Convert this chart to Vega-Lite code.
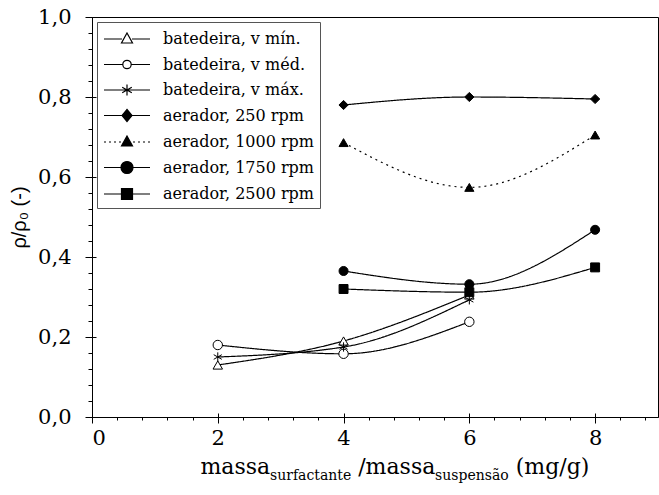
{
  "$schema": "https://vega.github.io/schema/vega-lite/v6.json",
  "autosize": {"type": "none"},
  "padding": {"left": 92, "top": 17, "right": 1, "bottom": 78},
  "width": 566,
  "height": 400,
  "background": "white",
  "config": {
    "view": {"stroke": "black", "strokeWidth": 1},
    "axis": {"labelFont": "DejaVu Serif", "labelColor": "black", "titleColor": "black", "grid": false, "domainColor": "black", "tickColor": "black", "titleFontWeight": "normal", "titleFont": "DejaVu Serif"},
    "legend": {
      "title": null, "orient": "top-left", "offset": 5, "padding": 6,
      "strokeColor": "#555555", "fillColor": "white",
      "labelFont": "DejaVu Serif", "labelFontSize": 16, "labelColor": "black", "labelOffset": 25,
      "symbolSize": 400, "symbolOffset": 13, "rowPadding": 6.5, "labelLimit": 300,
      "symbolStrokeWidth": 1.2, "symbolOpacity": 1
    }
  },
  "data": {"values": [
    {"series": "batedeira, v mín.", "x": 2, "y": 0.13},
    {"series": "batedeira, v mín.", "x": 4, "y": 0.19},
    {"series": "batedeira, v mín.", "x": 6, "y": 0.305},
    {"series": "batedeira, v méd.", "x": 2, "y": 0.18},
    {"series": "batedeira, v méd.", "x": 4, "y": 0.158},
    {"series": "batedeira, v méd.", "x": 6, "y": 0.238},
    {"series": "batedeira, v máx.", "x": 2, "y": 0.15},
    {"series": "batedeira, v máx.", "x": 4, "y": 0.175},
    {"series": "batedeira, v máx.", "x": 6, "y": 0.293},
    {"series": "aerador, 250 rpm", "x": 4, "y": 0.78},
    {"series": "aerador, 250 rpm", "x": 6, "y": 0.80},
    {"series": "aerador, 250 rpm", "x": 8, "y": 0.795},
    {"series": "aerador, 1000 rpm", "x": 4, "y": 0.686},
    {"series": "aerador, 1000 rpm", "x": 6, "y": 0.574},
    {"series": "aerador, 1000 rpm", "x": 8, "y": 0.705},
    {"series": "aerador, 1750 rpm", "x": 4, "y": 0.365},
    {"series": "aerador, 1750 rpm", "x": 6, "y": 0.332},
    {"series": "aerador, 1750 rpm", "x": 8, "y": 0.468},
    {"series": "aerador, 2500 rpm", "x": 4, "y": 0.32},
    {"series": "aerador, 2500 rpm", "x": 6, "y": 0.312},
    {"series": "aerador, 2500 rpm", "x": 8, "y": 0.374}
  ]},
  "resolve": {"axis": {"x": "independent", "y": "independent"}, "scale": {"shape": "independent", "fill": "independent", "stroke": "independent"}},
  "layer": [
    {
      "mark": {"type": "line", "interpolate": "monotone", "color": "black", "strokeWidth": 1.2},
      "encoding": {
        "x": {"field": "x", "type": "quantitative", "scale": {"domain": [0, 9], "nice": false, "zero": false},
          "axis": {"orient": "bottom", "values": [0, 2, 4, 6, 8], "labelFontSize": 21, "tickSize": 6, "labelPadding": 4,
            "title": "massa", "titleFontSize": 22, "titleX": 108, "titleY": 56, "titleAlign": "left", "titleBaseline": "alphabetic", "titleAnchor": "start"}},
        "y": {"field": "y", "type": "quantitative", "scale": {"domain": [0, 1], "nice": false},
          "axis": {"orient": "left", "values": [0, 0.2, 0.4, 0.6, 0.8, 1.0], "labelExpr": "replace(format(datum.value, '.1f'), '.', ',')",
            "labelFontSize": 21, "tickSize": 7, "labelPadding": 14,
            "title": "ρ/ρ₀ (-)", "titleFont": "Liberation Sans", "titleFontSize": 20, "titleX": -73, "titleY": 200, "titleAngle": 270, "titleAlign": "center", "titleBaseline": "middle"}},
        "detail": {"field": "series"},
        "strokeDash": {"field": "series", "legend": null,
          "scale": {"domain": ["batedeira, v mín.", "batedeira, v méd.", "batedeira, v máx.", "aerador, 250 rpm", "aerador, 1000 rpm", "aerador, 1750 rpm", "aerador, 2500 rpm"],
            "range": [[1, 0], [1, 0], [1, 0], [1, 0], [2, 4], [1, 0], [1, 0]]}}
      }
    },
    {
      "mark": {"type": "point", "filled": true, "stroke": "black", "strokeWidth": 1, "opacity": 1},
      "encoding": {
        "x": {"field": "x", "type": "quantitative",
          "axis": {"orient": "bottom", "values": [0.4, 0.8, 1.2, 1.6, 2.4, 2.8, 3.2, 3.6, 4.4, 4.8, 5.2, 5.6, 6.4, 6.8, 7.2, 7.6, 8.4, 8.8],
            "labels": false, "domain": false, "tickSize": 3,
            "title": "surfactante", "titleFontSize": 14, "titleX": 177.5, "titleY": 62, "titleAlign": "left", "titleBaseline": "alphabetic"}},
        "y": {"field": "y", "type": "quantitative",
          "axis": {"orient": "left", "values": [0.04, 0.08, 0.12, 0.16, 0.24, 0.28, 0.32, 0.36, 0.44, 0.48, 0.52, 0.56, 0.64, 0.68, 0.72, 0.76, 0.84, 0.88, 0.92, 0.96],
            "labels": false, "domain": false, "tickSize": 4, "title": null}},
        "shape": {"field": "series", "legend": null,
          "scale": {"domain": ["batedeira, v mín.", "batedeira, v méd.", "batedeira, v máx.", "aerador, 250 rpm", "aerador, 1000 rpm", "aerador, 1750 rpm", "aerador, 2500 rpm"],
            "range": ["triangle-up", "circle", "M0,-1V1M-0.87,-0.5L0.87,0.5M-0.87,0.5L0.87,-0.5", "diamond", "triangle-up", "circle", "square"]}},
        "fill": {"field": "series", "legend": null,
          "scale": {"domain": ["batedeira, v mín.", "batedeira, v méd.", "batedeira, v máx.", "aerador, 250 rpm", "aerador, 1000 rpm", "aerador, 1750 rpm", "aerador, 2500 rpm"],
            "range": ["white", "white", "white", "black", "black", "black", "black"]}},
        "size": {"field": "series", "legend": null,
          "scale": {"domain": ["batedeira, v mín.", "batedeira, v méd.", "batedeira, v máx.", "aerador, 250 rpm", "aerador, 1000 rpm", "aerador, 1750 rpm", "aerador, 2500 rpm"],
            "range": [90, 80, 90, 110, 120, 150, 130]}}
      }
    },
    {
      "mark": {"type": "point", "filled": true, "strokeWidth": 1.2, "opacity": 0},
      "encoding": {
        "x": {"field": "x", "type": "quantitative", "axis": null},
        "y": {"field": "y", "type": "quantitative", "axis": null},
        "shape": {"field": "series", "legend": {"title": null},
          "scale": {"domain": ["batedeira, v mín.", "batedeira, v méd.", "batedeira, v máx.", "aerador, 250 rpm", "aerador, 1000 rpm", "aerador, 1750 rpm", "aerador, 2500 rpm"],
            "range": [
              "M-2.3,0H-0.5M0.5,0H2.3M0,-0.6L0.55,0.4L-0.55,0.4Z",
              "M-2.3,0H-0.42M0.42,0H2.3M-0.42,0A0.42,0.42 0 1,0 0.42,0A0.42,0.42 0 1,0 -0.42,0Z",
              "M-2.3,0H2.3M0,-0.55V0.55M-0.48,-0.28L0.48,0.28M-0.48,0.28L0.48,-0.28",
              "M-2.3,0H2.3M0,-0.6L0.5,0L0,0.6L-0.5,0Z",
              "M-2.3,0H-2.1M-1.8,0H-1.6M-1.3,0H-1.1M-0.8,0H-0.6M0.6,0H0.8M1.1,0H1.3M1.6,0H1.8M2.1,0H2.3M0,-0.6L0.55,0.4L-0.55,0.4Z",
              "M-2.3,0H2.3M-0.6,0A0.6,0.6 0 1,0 0.6,0A0.6,0.6 0 1,0 -0.6,0Z",
              "M-2.3,0H2.3M-0.55,-0.55H0.55V0.55H-0.55Z"
            ]}},
        "fill": {"field": "series", "legend": {"title": null},
          "scale": {"domain": ["batedeira, v mín.", "batedeira, v méd.", "batedeira, v máx.", "aerador, 250 rpm", "aerador, 1000 rpm", "aerador, 1750 rpm", "aerador, 2500 rpm"],
            "range": ["white", "white", "white", "black", "black", "black", "black"]}},
        "stroke": {"field": "series", "legend": {"title": null},
          "scale": {"domain": ["batedeira, v mín.", "batedeira, v méd.", "batedeira, v máx.", "aerador, 250 rpm", "aerador, 1000 rpm", "aerador, 1750 rpm", "aerador, 2500 rpm"],
            "range": ["black", "black", "black", "black", "black", "black", "black"]}}
      }
    },
    {
      "mark": {"type": "point", "opacity": 0},
      "encoding": {
        "x": {"field": "x", "type": "quantitative",
          "axis": {"orient": "bottom", "values": [0, 2, 4, 6, 8], "labels": false, "domain": false, "tickSize": -4,
            "title": "/massa", "titleFontSize": 22, "titleX": 265.7, "titleY": 56, "titleAlign": "left", "titleBaseline": "alphabetic"}},
        "y": {"field": "y", "type": "quantitative",
          "axis": {"orient": "left", "values": [0, 0.2, 0.4, 0.6, 0.8, 1.0], "labels": false, "domain": false, "tickSize": -4, "title": null}}
      }
    },
    {
      "mark": {"type": "point", "opacity": 0},
      "encoding": {
        "x": {"field": "x", "type": "quantitative",
          "axis": {"orient": "bottom", "labels": false, "domain": false, "ticks": false,
            "title": "suspensão", "titleFontSize": 14, "titleX": 342.6, "titleY": 62, "titleAlign": "left", "titleBaseline": "alphabetic"}},
        "y": {"field": "y", "type": "quantitative", "axis": null}
      }
    },
    {
      "mark": {"type": "point", "opacity": 0},
      "encoding": {
        "x": {"field": "x", "type": "quantitative",
          "axis": {"orient": "bottom", "labels": false, "domain": false, "ticks": false,
            "title": "(mg/g)", "titleFontSize": 22, "titleX": 423.2, "titleY": 56, "titleAlign": "left", "titleBaseline": "alphabetic"}},
        "y": {"field": "y", "type": "quantitative", "axis": null}
      }
    }
  ]
}
